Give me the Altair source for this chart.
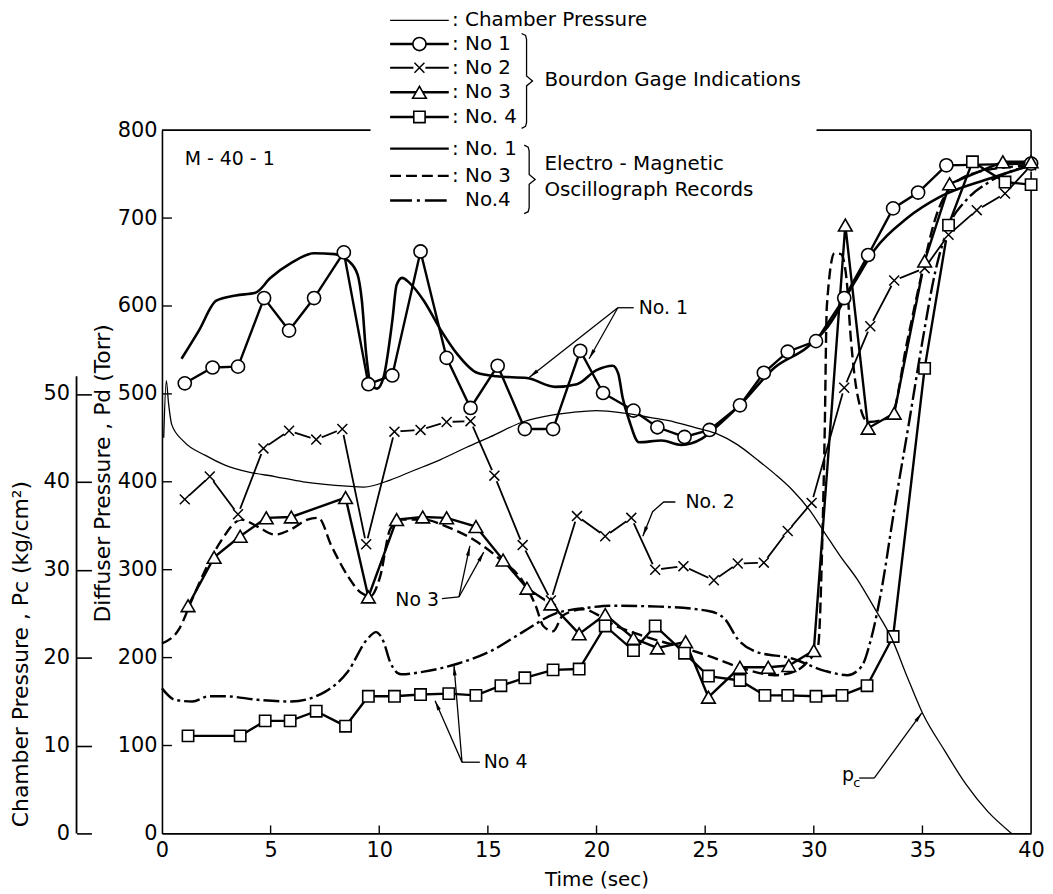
import math
import altair as alt
import pandas as pd

# ---------------- values ----------------
# Bourdon gage indications (diffuser pressure, Torr) vs time (sec)
no1_t = [1.05, 2.33, 3.5, 4.7, 5.85, 7.0, 8.37, 9.5, 10.6, 11.9, 13.1, 14.2, 15.45, 16.7, 18.0, 19.25,
         20.3, 21.7, 22.8, 24.05, 25.2, 26.6, 27.7, 28.8, 30.1, 31.4, 32.5, 33.65, 34.8, 36.1, 40.0]
no1_p = [512, 530, 531, 609, 572, 609, 661, 511, 521, 662, 541, 484, 532, 460, 460, 549,
         501, 481, 462, 451, 459, 487, 524, 548, 560, 609, 658, 711, 729, 760, 762]

no2_t = [1.05, 2.2, 3.5, 4.67, 5.85, 7.1, 8.3, 9.4, 10.7, 11.9, 13.1, 14.2, 15.3, 16.6, 17.9, 19.1,
         20.4, 21.6, 22.7, 24.0, 25.4, 26.5, 27.7, 28.8, 29.9, 31.4, 32.6, 33.7, 35.1, 36.2, 37.5, 38.8, 40.0]
no2_p = [380, 406, 363, 438, 458, 448, 460, 329, 457, 459, 468, 469, 407, 328, 265, 361,
         338, 359, 300, 304, 288, 307, 308, 344, 376, 507, 577, 629, 643, 681, 709, 728, 760]

no3_t = [1.2, 2.4, 3.6, 4.8, 5.95, 8.45, 9.5, 10.8, 12.0, 13.1, 14.45, 15.7, 16.8, 17.9, 19.2, 20.4,
         21.7, 22.8, 24.1, 25.15, 26.6, 27.9, 28.85, 30.0, 31.45, 32.5, 33.7, 35.1, 36.25, 38.7, 40.0]
no3_p = [259, 314, 338, 359, 360, 382, 269, 357, 360, 359, 349, 311, 279, 261, 227, 249,
         222, 211, 218, 155, 189, 189, 191, 208, 692, 461, 478, 651, 739, 764, 764]

no4_t = [1.2, 3.6, 4.75, 5.9, 7.1, 8.45, 9.5, 10.7, 11.9, 13.2, 14.45, 15.6, 16.7, 18.0, 19.2, 20.4,
         21.7, 22.7, 24.05, 25.15, 26.6, 27.75, 28.8, 30.1, 31.3, 32.45, 33.65, 35.1, 36.2, 37.3, 38.8, 40.0]
no4_p = [111, 111, 128, 128, 139, 122, 156, 156, 158, 159, 157, 168, 177, 186, 187, 236,
         208, 236, 205, 179, 174, 157, 157, 156, 157, 168, 224, 529, 692, 764, 741, 738]

# Chamber pressure (kg/cm^2)
pc_t = [0.08, 0.2, 0.3, 0.45, 1.0, 2.0, 2.9, 4.0, 5.2, 6.5, 7.5, 8.5, 9.3, 10.5, 11.5, 12.8, 14.0, 15.1,
        16.6, 18.0, 18.9, 20.0, 21.3, 22.5, 23.6, 24.5, 25.5, 26.5, 27.4, 28.2, 29.0, 29.8, 30.5, 31.2,
        32.0, 32.8, 33.6, 34.3, 35.0, 36.0, 37.0, 38.0, 39.1]
pc_kg = [45.0, 51.5, 49.0, 46.5, 44.6, 43.0, 41.9, 41.1, 40.6, 40.0, 39.7, 39.5, 39.4, 40.2, 41.2, 42.5,
         43.9, 45.1, 46.8, 47.6, 47.9, 48.1, 47.8, 47.3, 46.8, 46.2, 45.5, 44.2, 42.5, 40.9, 39.1, 36.8,
         34.2, 31.6, 28.9, 25.6, 22.1, 17.8, 13.7, 9.5, 5.6, 2.5, 0.0]

# Electro-magnetic oscillograph records (Torr)
em1_t = [0.9, 1.7, 2.5, 3.4, 4.3, 5.0, 5.95, 7.0, 7.95, 8.6, 9.0, 9.2, 9.4, 9.6, 9.9, 10.2, 10.6, 10.8,
         11.05, 11.4, 12.05, 12.8, 13.6, 14.5, 15.4, 16.8, 18.1, 19.1, 20.0, 20.75, 21.0, 21.2, 21.5,
         21.95, 23.0, 23.9, 24.85, 25.45, 26.7, 28.2, 29.7, 30.6, 31.9, 32.8, 34.3, 35.8, 38.1, 40.0]
em1_p = [540, 572, 606, 612, 615, 632, 649, 660, 659, 651, 636, 606, 545, 512, 506, 519, 583, 624,
         632, 626, 606, 574, 545, 524, 520, 518, 508, 511, 527, 532, 523, 496, 470,
         445, 447, 442, 449, 461, 490, 530, 553, 575, 628, 664, 700, 724, 745, 760]

em3_t = [0.0, 0.8, 1.4, 2.0, 2.75, 3.65, 4.4, 5.2, 5.95, 6.7, 7.2, 7.8, 8.55, 9.15, 9.6, 10.05, 10.5,
         11.0, 12.05, 13.1, 14.35, 15.55, 16.6, 17.2, 17.55, 18.0, 18.45, 19.4, 20.1, 20.6, 22.1, 23.6,
         25.15, 26.7, 28.2, 29.1, 29.7, 30.2, 30.4, 30.5, 30.6, 30.95, 31.25, 31.5, 31.7, 32.0, 32.5,
         33.55, 34.3, 35.0, 35.6, 36.3, 37.5, 40.0]
em3_p = [216, 233, 267, 300, 334, 357, 349, 340, 346, 357, 359, 327, 293, 274, 270, 293, 346,
         357, 357, 349, 334, 312, 287, 259, 236, 230, 248, 255, 248, 240, 225, 214,
         202, 188, 180, 184, 195, 214, 342, 455, 600, 660, 659, 632, 564, 500, 468,
         474, 560, 640, 700, 735, 752, 760]

em4_t = [0.0, 0.6, 1.4, 2.15, 2.9, 4.4, 5.95, 7.5, 8.55, 9.45, 9.85, 10.2, 10.5, 11.0, 12.05, 13.6,
         15.1, 16.6, 18.1, 19.7, 20.6, 22.9, 25.15, 25.9, 26.5, 27.3, 29.0, 30.5, 31.55, 32.2, 32.6,
         33.1, 33.7, 34.4, 35.0, 35.6, 36.2, 37.0, 38.0, 40.0]
em4_p = [165, 152, 150, 156, 156, 152, 150, 161, 184, 221, 229, 218, 195, 181, 184, 193,
         207, 229, 250, 257, 259, 258, 253, 244, 221, 207, 199, 185, 180, 190, 218,
         275, 368, 470, 560, 640, 690, 720, 740, 760]

# axis ticks
time_ticks = [0, 5, 10, 15, 20, 25, 30, 35, 40]
torr_ticks = [0, 100, 200, 300, 400, 500, 600, 700, 800]
kg_ticks = [0, 10, 20, 30, 40, 50]

# texts
legend_labels = [": Chamber Pressure", ": No  1", ": No  2", ": No  3", ": No. 4", ": No. 1", ": No  3", "No.4"]
group_labels = ["Bourdon  Gage  Indications", "Electro - Magnetic", "Oscillograph  Records"]
run_label = "M - 40 - 1"
note_labels = ["No. 1", "No. 2", "No  3", "No  4"]

# ---------------- layout ----------------
PW, PH = 875, 708
KX, KY = PW / 40.0, PH / 800.0
FONT = "DejaVu Sans"

XS = alt.Scale(domain=[0, 40], nice=False, zero=False)
YS = alt.Scale(domain=[0, 800], nice=False, zero=False)
CS = alt.Scale(domain=[0, 80], nice=False, zero=False)

XA = alt.Axis(values=time_ticks, ticks=False, grid=False, labelFlush=False, labelPadding=6,
              labelFontSize=21, domainWidth=1.6, title="Time  (sec)", titleFontSize=20,
              titleFontWeight="normal", titlePadding=9)
YA = alt.Axis(values=torr_ticks, orient="left", ticks=False, grid=False, labelPadding=5, labelFontSize=21,
              domainWidth=1.6, title="Diffuser  Pressure ,  Pd  (Torr)", titleFontSize=22,
              titleFontWeight="normal", titleAngle=270, titleX=-60, titleY=345,
              titleAlign="center", titleBaseline="middle")
CA = alt.Axis(values=kg_ticks, orient="left", offset=71, domain=False, ticks=True, tickSize=15,
              tickWidth=1.6, tickColor="black", grid=False, labelPadding=7, labelFontSize=21,
              title="Chamber  Pressure ,  Pc  (kg/cm²)", titleFontSize=22, titleFontWeight="normal",
              titleAngle=270, titleX=-71, titleY=527, titleAlign="center", titleBaseline="middle")


def X(f="t"):
    return alt.X(f"{f}:Q", scale=XS, axis=XA)


def Y(f="p"):
    return alt.Y(f"{f}:Q", scale=YS, axis=YA)


one = pd.DataFrame({"z": [0]})

# legend geometry (data units)
leg_p = [925, 898, 871, 843, 815, 779, 748, 720]
leg_t0, leg_t1, leg_tm, leg_tt = 10.5, 13.2, 11.85, 13.35


def seg(i, name):
    return pd.DataFrame({"t": [leg_t0, leg_t1], "p": [leg_p[i]] * 2, "s": [name] * 2})


def series(ts, ps, name):
    return pd.DataFrame({"t": ts, "p": ps, "s": [name] * len(ts)})


# ---------- diffuser-scale layers ----------
layers = []

# frame (right border and broken top border)
layers.append(alt.Chart(one).mark_rule(color="black", strokeWidth=1.6).encode(
    x=alt.value(PW), y=alt.value(0), y2=alt.value(PH)))
layers.append(alt.Chart(one).mark_rule(color="black", strokeWidth=1.6).encode(
    x=alt.value(0), x2=alt.value(210), y=alt.value(0)))
layers.append(alt.Chart(one).mark_rule(color="black", strokeWidth=1.6).encode(
    x=alt.value(659), x2=alt.value(PW), y=alt.value(0)))

# inward ticks
layers.append(alt.Chart(pd.DataFrame({"v": torr_ticks[1:-1]})).mark_rule(color="black", strokeWidth=1.4).encode(
    y=Y("v"), x=alt.value(0), x2=alt.value(10)))
layers.append(alt.Chart(pd.DataFrame({"v": time_ticks[1:-1]})).mark_rule(color="black", strokeWidth=1.4).encode(
    x=X("v"), y=alt.value(PH), y2=alt.value(PH - 8)))

# electro-magnetic records
layers.append(alt.Chart(series(em1_t, em1_p, "em1")).mark_line(
    interpolate="monotone", color="black", strokeWidth=2.6).encode(x=X(), y=Y()))
layers.append(alt.Chart(series(em3_t, em3_p, "em3")).mark_line(
    interpolate="monotone", color="black", strokeWidth=2.4, strokeDash=[11, 5]).encode(x=X(), y=Y()))
layers.append(alt.Chart(series(em4_t, em4_p, "em4")).mark_line(
    interpolate="monotone", color="black", strokeWidth=2.4, strokeDash=[16, 4, 3, 4]).encode(x=X(), y=Y()))

# legend sample lines
layers.append(alt.Chart(seg(0, "L0")).mark_line(color="black", strokeWidth=1.3).encode(x=X(), y=Y()))
thick_leg = pd.concat([seg(1, "L1"), seg(3, "L3"), seg(4, "L4"), seg(5, "L5")])
layers.append(alt.Chart(thick_leg).mark_line(color="black", strokeWidth=2.5).encode(
    x=X(), y=Y(), detail="s:N"))
layers.append(alt.Chart(seg(6, "L6")).mark_line(color="black", strokeWidth=2.4, strokeDash=[11, 5]).encode(x=X(), y=Y()))
layers.append(alt.Chart(seg(7, "L7")).mark_line(color="black", strokeWidth=2.4, strokeDash=[22, 5, 3, 5]).encode(x=X(), y=Y()))

# Bourdon lines
bour = pd.concat([series(no1_t, no1_p, "b1"), series(no3_t, no3_p, "b3"), series(no4_t, no4_p, "b4")])
layers.append(alt.Chart(bour).mark_line(color="black", strokeWidth=2.4).encode(x=X(), y=Y(), detail="s:N"))
b2 = series(no2_t, no2_p, "b2")
layers.append(alt.Chart(b2).mark_line(color="black", strokeWidth=1.8).encode(x=X(), y=Y()))
layers.append(alt.Chart(seg(2, "L2")).mark_line(color="black", strokeWidth=1.8).encode(x=X(), y=Y()))


# markers
def pts(ts, ps, extra_row):
    return pd.DataFrame({"t": list(ts) + [leg_tm], "p": list(ps) + [leg_p[extra_row]]})


layers.append(alt.Chart(pts(no2_t, no2_p, 2)).mark_point(
    shape="circle", filled=True, color="white", size=150, opacity=1, strokeWidth=0).encode(x=X(), y=Y()))
layers.append(alt.Chart(pts(no2_t, no2_p, 2)).mark_point(
    shape="M-1,-1L1,1M-1,1L1,-1", filled=False, color="black", strokeWidth=1.5, size=100, opacity=1).encode(x=X(), y=Y()))
layers.append(alt.Chart(pts(no1_t, no1_p, 1)).mark_point(
    shape="circle", filled=True, fill="white", stroke="black", strokeWidth=1.6, size=175, opacity=1).encode(x=X(), y=Y()))
layers.append(alt.Chart(pts(no3_t, no3_p, 3)).mark_point(
    shape="triangle-up", filled=True, fill="white", stroke="black", strokeWidth=1.6, size=190, opacity=1).encode(x=X(), y=Y()))
layers.append(alt.Chart(pts(no4_t, no4_p, 4)).mark_point(
    shape="square", filled=True, fill="white", stroke="black", strokeWidth=1.6, size=130, opacity=1).encode(x=X(), y=Y()))

# annotation leaders and arrows (data units)
paths = {
    "n1_lead": [(21.71, 598), (20.98, 598)],
    "n1_a": [(20.98, 598), (16.91, 519)],
    "n1_b": [(20.98, 598), (19.66, 540)],
    "n2": [(23.63, 377), (23.09, 377), (22.58, 366), (22.13, 338)],
    "n3_lead": [(12.89, 267), (13.67, 269)],
    "n3_a": [(13.67, 269), (14.17, 327)],
    "n3_b": [(13.67, 269), (14.81, 320)],
    "n4_lead": [(14.63, 81), (13.81, 81)],
    "n4_a": [(13.81, 81), (12.57, 151)],
    "n4_b": [(13.81, 81), (13.44, 191)],
    "pc_lead": [(32.09, 63), (32.78, 63)],
    "pc_a": [(32.78, 63), (34.97, 137)],
}
arrow_keys = ["n1_a", "n1_b", "n2", "n3_a", "n3_b", "n4_a", "n4_b", "pc_a"]


def brace(x0, top, bot):
    mid = (top + bot) / 2.0
    return [(x0 - 5 / KX, top), (x0 - 1 / KX, top - 2 / KY), (x0, top - 6 / KY), (x0, mid + 5 / KY),
            (x0 + 6 / KX, mid), (x0, mid - 5 / KY), (x0, bot + 6 / KY), (x0 - 1 / KX, bot + 2 / KY),
            (x0 - 5 / KX, bot)]


paths["brace1"] = brace(16.78, 910, 802)
paths["brace2"] = brace(16.90, 783, 705)

rows = []
for g, pl in paths.items():
    for i, (t, p) in enumerate(pl):
        rows.append({"t": t, "p": p, "g": g, "i": i})
ann = pd.DataFrame(rows)
layers.append(alt.Chart(ann).mark_line(color="black", strokeWidth=1.3).encode(
    x=X(), y=Y(), detail="g:N", order="i:Q"))

heads = []
for k in arrow_keys:
    (t0, p0), (t1, p1) = paths[k][-2], paths[k][-1]
    dx, dy = (t1 - t0) * KX, -(p1 - p0) * KY
    L = math.hypot(dx, dy)
    ux, uy = dx / L, dy / L
    ang = math.degrees(math.atan2(dx, -dy)) % 360
    heads.append({"t": t1 - ux * 5 / KX, "p": p1 + uy * 5 / KY, "a": ang})
layers.append(alt.Chart(pd.DataFrame(heads)).mark_point(
    shape="M0,-1L0.38,1L-0.38,1Z", filled=True, color="black", size=100, opacity=1).encode(
    x=X(), y=Y(), angle=alt.Angle("a:Q", scale=None)))

# texts
texts = pd.DataFrame({
    "t": [leg_tt] * 7 + [13.95] + [17.6, 17.6, 17.6],
    "p": leg_p + [857, 762, 732],
    "label": legend_labels + group_labels,
})
layers.append(alt.Chart(texts).mark_text(align="left", baseline="middle", font=FONT, fontSize=20,
                                        color="black").encode(x=X(), y=Y(), text="label:N"))
notes = pd.DataFrame({"t": [21.94, 24.09, 10.74, 14.81, 1.05], "p": [598, 377, 266, 81, 767],
                      "label": note_labels + [run_label]})
layers.append(alt.Chart(notes).mark_text(align="left", baseline="middle", font=FONT, fontSize=19,
                                        color="black").encode(x=X(), y=Y(), text="label:N"))
pc_lab = pd.DataFrame({"t": [31.3], "p": [66], "label": ["p"]})
pc_sub = pd.DataFrame({"t": [31.82], "p": [57], "label": ["c"]})
layers.append(alt.Chart(pc_lab).mark_text(align="left", baseline="middle", font=FONT, fontSize=19,
                                         color="black").encode(x=X(), y=Y(), text="label:N"))
layers.append(alt.Chart(pc_sub).mark_text(align="left", baseline="middle", font=FONT, fontSize=13,
                                         color="black").encode(x=X(), y=Y(), text="label:N"))

diffuser = alt.layer(*layers)

# ---------- chamber-scale layers ----------
ch_line = alt.Chart(pd.DataFrame({"t": pc_t, "kg": pc_kg})).mark_line(
    interpolate="monotone", color="black", strokeWidth=1.3).encode(
    x=X(), y=alt.Y("kg:Q", scale=CS, axis=CA))
ch_axis = alt.Chart(pd.DataFrame({"lo": [0], "hi": [52]})).mark_rule(color="black", strokeWidth=1.8).encode(
    x=alt.value(-86), y=alt.Y("lo:Q", scale=CS, axis=CA), y2="hi:Q")
chamber = alt.layer(ch_line, ch_axis)

chart = alt.layer(diffuser, chamber).resolve_scale(y="independent").properties(
    width=PW, height=PH,
    padding={"left": 155, "top": 120, "right": 14, "bottom": 57},
    autosize=alt.AutoSizeParams(type="none"),
).configure_view(stroke=None).configure_axis(
    labelFont=FONT, titleFont=FONT, labelColor="black", titleColor="black", domainColor="black")

chart.save("out.html", embed_options={"renderer": "svg", "actions": False})
